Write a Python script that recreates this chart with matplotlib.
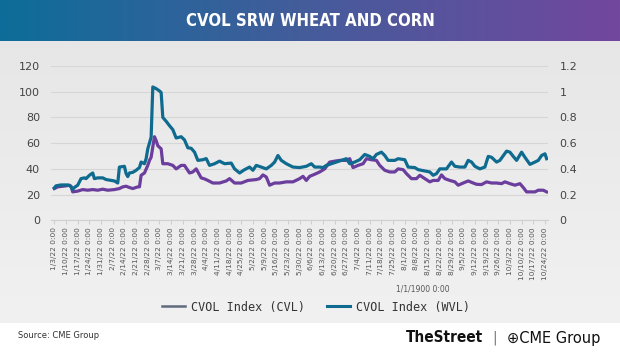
import matplotlib
matplotlib.use("Agg")
import matplotlib.pyplot as plt
from matplotlib.lines import Line2D
import numpy as np
import pandas as pd

# ---------------- data ----------------
wvl_dates = ["2022-01-03","2022-01-04","2022-01-07","2022-01-11","2022-01-12","2022-01-13","2022-01-14",
             "2022-01-15","2022-01-17","2022-01-19","2022-01-21","2022-01-22","2022-01-24","2022-01-26",
             "2022-01-27","2022-01-29","2022-02-01","2022-02-03","2022-02-06","2022-02-08","2022-02-10",
             "2022-02-11","2022-02-14","2022-02-15","2022-02-16","2022-02-17","2022-02-19","2022-02-21",
             "2022-02-23","2022-02-24","2022-02-26","2022-02-27","2022-02-28","2022-03-02","2022-03-03",
             "2022-03-05","2022-03-07","2022-03-08","2022-03-09","2022-03-11","2022-03-13","2022-03-15",
             "2022-03-17","2022-03-20","2022-03-22","2022-03-24","2022-03-26","2022-03-28","2022-03-30",
             "2022-04-02","2022-04-04","2022-04-06","2022-04-09","2022-04-12","2022-04-15","2022-04-19",
             "2022-04-21","2022-04-24","2022-04-27","2022-04-30","2022-05-02","2022-05-04","2022-05-07",
             "2022-05-10","2022-05-13","2022-05-15","2022-05-17","2022-05-19","2022-05-22","2022-05-26",
             "2022-05-30","2022-06-03","2022-06-06","2022-06-08","2022-06-11","2022-06-13","2022-06-15",
             "2022-06-18","2022-06-21","2022-06-24","2022-06-27","2022-06-29","2022-07-02","2022-07-05",
             "2022-07-08","2022-07-11","2022-07-13","2022-07-15","2022-07-18","2022-07-20","2022-07-22",
             "2022-07-26","2022-07-28","2022-08-01","2022-08-03","2022-08-07","2022-08-09","2022-08-13",
             "2022-08-16","2022-08-18","2022-08-20","2022-08-22","2022-08-26","2022-08-29","2022-08-31",
             "2022-09-03","2022-09-06","2022-09-08","2022-09-10","2022-09-12","2022-09-15","2022-09-18",
             "2022-09-20","2022-09-22","2022-09-25","2022-09-27","2022-10-01","2022-10-03","2022-10-05",
             "2022-10-07","2022-10-10","2022-10-12","2022-10-15","2022-10-18","2022-10-20","2022-10-22",
             "2022-10-24","2022-10-25"]
wvl_values = [25.2,26.8,27.5,27.5,27.0,26.0,24.0,
              25.5,27.3,32.4,33.0,32.4,35.0,36.8,
              32.4,33.0,33.0,31.7,31.0,30.6,29.0,
              41.4,42.0,36.3,34.0,36.8,37.3,38.9,
              41.0,45.3,44.0,47.9,55.6,64.6,103.7,
              102.4,100.6,99.4,80.0,77.0,73.6,70.5,
              64.0,65.0,62.5,56.4,56.0,53.0,46.6,
              47.1,48.0,42.7,44.0,46.0,44.0,44.5,
              40.0,36.8,39.4,41.4,38.9,42.7,41.4,
              40.0,42.7,45.3,50.4,46.6,44.0,41.4,
              41.0,42.0,44.0,41.4,41.4,41.0,42.7,
              44.0,45.3,46.6,47.9,44.0,45.3,47.1,
              51.2,49.7,47.9,51.2,53.0,50.4,46.6,
              46.6,47.9,47.1,41.4,41.0,39.4,38.4,
              37.6,35.0,36.3,40.0,40.0,45.3,42.0,
              41.4,41.4,46.6,45.3,42.0,40.0,41.4,
              49.7,49.0,45.3,46.6,53.8,53.0,49.7,
              46.6,53.0,49.0,43.5,45.3,46.6,50.4,
              51.7,47.9]

cvl_dates = ["2022-01-03","2022-01-05","2022-01-10","2022-01-12","2022-01-13","2022-01-14","2022-01-17",
             "2022-01-20","2022-01-23","2022-01-26","2022-01-29","2022-02-01","2022-02-04","2022-02-08",
             "2022-02-11","2022-02-13","2022-02-15","2022-02-17","2022-02-19","2022-02-22","2022-02-23",
             "2022-02-24","2022-02-26","2022-02-28","2022-03-01","2022-03-02","2022-03-04","2022-03-05",
             "2022-03-06","2022-03-08","2022-03-09","2022-03-12","2022-03-15","2022-03-17","2022-03-20",
             "2022-03-22","2022-03-25","2022-03-27","2022-03-29","2022-04-01","2022-04-03","2022-04-05",
             "2022-04-08","2022-04-12","2022-04-16","2022-04-18","2022-04-21","2022-04-25","2022-04-29",
             "2022-05-04","2022-05-06","2022-05-08","2022-05-10","2022-05-12","2022-05-15","2022-05-18",
             "2022-05-22","2022-05-26","2022-05-30","2022-06-01","2022-06-03","2022-06-05","2022-06-08",
             "2022-06-11","2022-06-14","2022-06-17","2022-06-20","2022-06-23","2022-06-27","2022-06-29",
             "2022-07-01","2022-07-04","2022-07-07","2022-07-09","2022-07-12","2022-07-15","2022-07-17",
             "2022-07-20","2022-07-23","2022-07-26","2022-07-28","2022-07-31","2022-08-02","2022-08-05",
             "2022-08-08","2022-08-10","2022-08-13","2022-08-16","2022-08-18","2022-08-21","2022-08-23",
             "2022-08-25","2022-08-28","2022-08-31","2022-09-02","2022-09-05","2022-09-08","2022-09-11",
             "2022-09-13","2022-09-16","2022-09-19","2022-09-22","2022-09-25","2022-09-28","2022-09-30",
             "2022-10-03","2022-10-06","2022-10-09","2022-10-11","2022-10-13","2022-10-15","2022-10-18",
             "2022-10-20","2022-10-23","2022-10-25"]
cvl_values = [24.7,26.0,26.8,27.3,26.5,22.1,22.7,
              23.9,23.4,23.9,23.4,24.2,23.4,23.9,
              24.7,26.0,26.5,25.5,24.7,26.0,26.0,
              35.0,36.8,42.7,46.6,49.0,65.0,62.0,
              58.0,55.6,44.0,44.0,42.7,40.0,42.7,
              42.7,36.8,37.6,40.0,33.0,32.2,31.0,
              29.0,29.0,30.6,32.4,29.0,29.0,31.0,
              31.7,32.4,35.3,33.7,27.3,29.0,29.0,
              29.9,29.9,32.4,34.2,31.0,34.2,35.8,
              37.6,40.0,45.3,46.0,46.6,46.6,47.9,
              41.0,42.7,44.0,47.9,47.1,46.6,42.7,
              38.9,37.6,37.6,40.0,39.4,36.3,32.4,
              32.4,35.0,32.4,29.9,31.0,31.0,35.3,
              32.4,31.0,29.9,27.3,29.0,30.6,29.0,
              28.0,27.8,29.9,29.0,29.0,28.5,29.9,
              28.5,27.3,28.5,25.5,22.1,22.1,22.1,
              23.4,23.4,22.1]

tick_start, tick_end = "2022-01-03", "2022-10-24"
left_ticks = [0, 20, 40, 60, 80, 100, 120]
right_ticks = [0, 0.2, 0.4, 0.6, 0.8, 1.0, 1.2]
right_labels = ["0", "0.2", "0.4", "0.6", "0.8", "1", "1.2"]

title = "CVOL SRW WHEAT AND CORN"
series_names = ["CVOL Index (CVL)", "CVOL Index (WVL)"]
axis_title = "1/1/1900 0:00"
source = "Source: CME Group"

# ---------------- figure ----------------
W, H = 620, 356
fig = plt.figure(figsize=(W / 100, H / 100), dpi=100)
fig.patch.set_facecolor("white")

# gray chart panel
bg = fig.add_axes([0, (H - 323) / H, 1, (323 - 41) / H])
grad = np.linspace(0, 1, 100).reshape(-1, 1)
c_top = np.array([0.905, 0.905, 0.905])
c_bot = np.array([0.945, 0.945, 0.945])
img = c_top + (c_bot - c_top) * grad[..., None]
bg.imshow(img, aspect="auto", extent=[0, 1, 0, 1], origin="upper")
bg.axis("off")

# title banner
ban = fig.add_axes([0, (H - 41) / H, 1, 41 / H])
gx = np.linspace(0, 1, 300)
cl = np.array([0x0d, 0x6d, 0x99]) / 255
cm = np.array([0x45, 0x5c, 0x9b]) / 255
cr = np.array([0x72, 0x47, 0x9e]) / 255
cols = np.where(gx[:, None] < 0.5, cl + (cm - cl) * (gx[:, None] / 0.5),
                cm + (cr - cm) * ((gx[:, None] - 0.5) / 0.5))
ban.imshow(cols[None, :, :], aspect="auto", extent=[0, 1, 0, 1])
ban.axis("off")
ban.text(0.5, 0.5, title, color="white", ha="center", va="center",
         fontsize=12, fontweight="bold", fontstretch="condensed", family="DejaVu Sans")

# main axes
x0, x1 = 51, 548.3
y0, y1 = 220.3, 66
ax = fig.add_axes([x0 / W, (H - y0) / H, (x1 - x0) / W, (y0 - y1) / H])
ax.set_facecolor("none")

teal = "#0f6a8f"
purple = "#6b3d9c"
wd = pd.to_datetime(wvl_dates)
cd = pd.to_datetime(cvl_dates)
ax.plot(cd, cvl_values, color=purple, lw=2.3, solid_joinstyle="round", zorder=3)
ax.plot(wd, wvl_values, color=teal, lw=2.3, solid_joinstyle="round", zorder=4)

ax.set_ylim(0, 120)
ax.set_yticks(left_ticks)
ax.set_xlim(pd.Timestamp("2022-01-01"), pd.Timestamp("2022-10-26"))
ticks = pd.date_range(tick_start, tick_end, freq="7D")
ax.set_xticks(ticks)
ax.set_xticklabels([f"{t.month}/{t.day}/22 0:00" for t in ticks], rotation=90,
                   fontsize=5.3, color="#555555")
ax.grid(axis="y", color="#d6d6d6", lw=0.8)
ax.set_axisbelow(True)
for s in ["top", "right", "left"]:
    ax.spines[s].set_visible(False)
ax.spines["bottom"].set_color("#cfcfcf")
ax.tick_params(axis="x", length=3, color="#cfcfcf", pad=2)
ax.tick_params(axis="y", length=0, labelsize=8, labelcolor="#444444", pad=8)

ax2 = ax.twinx()
ax2.set_ylim(0, 1.2)
ax2.set_yticks(right_ticks)
ax2.set_yticklabels(right_labels)
ax2.tick_params(axis="y", length=0, labelsize=8, labelcolor="#444444", pad=8)
for s in ["top", "right", "left", "bottom"]:
    ax2.spines[s].set_visible(False)

fig.text(423 / W, (H - 289) / H, axis_title, ha="center", va="center",
         fontsize=5.5, color="#555555")

handles = [Line2D([], [], color="#5f6b7c", lw=1.8),
           Line2D([], [], color=teal, lw=2.2)]
leg = fig.legend(handles, series_names, loc="center", ncol=2,
                 bbox_to_anchor=(316 / W, (H - 307) / H), frameon=False,
                 handlelength=2.0, handletextpad=0.5, columnspacing=1.8,
                 prop={"family": "DejaVu Sans Mono", "size": 8.5})
for t in leg.get_texts():
    t.set_color("#333333")

# footer
fig.text(18 / W, (H - 336) / H, source, ha="left", va="center", fontsize=6, color="#333333")
fig.text(483 / W, (H - 338) / H, "TheStreet", ha="right", va="center", fontsize=11,
         fontweight="bold", fontstretch="condensed", color="#111111", family="DejaVu Sans")
fig.text(495 / W, (H - 338) / H, "|", ha="center", va="center", fontsize=10, color="#777777")
fig.text(507 / W, (H - 338) / H, "\u2295CME Group", ha="left", va="center", fontsize=10.5,
         color="#111111", family="DejaVu Sans")

fig.savefig("out.png", dpi=100)
